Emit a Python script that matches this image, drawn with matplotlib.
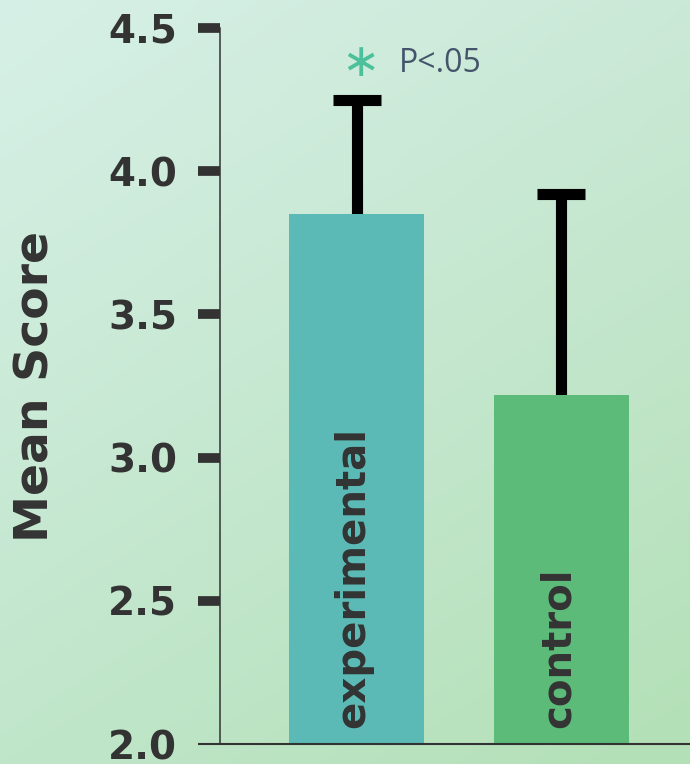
import numpy as np
import matplotlib.pyplot as plt
from matplotlib.colors import to_rgb

# Data
groups = ['experimental', 'control']
means = [3.85, 3.22]
upper_err = [0.40, 0.70]
bar_colors = ['#5bbab6', '#5cbb79']
yticks = [2.0, 2.5, 3.0, 3.5, 4.0, 4.5]
ytick_labels = ['2.0', '2.5', '3.0', '3.5', '4.0', '4.5']

dark = '#333333'

fig = plt.figure(figsize=(6.9, 7.64), dpi=100)

# Soft diagonal gradient behind everything
bg = fig.add_axes([0, 0, 1, 1], zorder=-1)
corners = {
    'tl': np.array(to_rgb('#d7f0e7')),
    'tr': np.array(to_rgb('#cbe9d7')),
    'bl': np.array(to_rgb('#c0e6ca')),
    'br': np.array(to_rgb('#b3e0b6')),
}
h, w = 200, 200
u = np.linspace(0, 1, w)[None, :, None]
v = np.linspace(0, 1, h)[:, None, None]
grad = ((1 - u) * (1 - v) * corners['tl'] + u * (1 - v) * corners['tr']
        + (1 - u) * v * corners['bl'] + u * v * corners['br'])
bg.imshow(grad, aspect='auto', extent=[0, 1, 0, 1], interpolation='bilinear')
bg.axis('off')

ax = fig.add_axes([220 / 690, 20 / 764, 470 / 690, 716 / 764])
ax.set_facecolor('none')

x = np.arange(len(groups))
eb = ax.errorbar(x, means, yerr=[[0, 0], upper_err], fmt='none', ecolor='black',
                 elinewidth=8, capsize=17.5, capthick=8, zorder=1)
# only the upper caps are wanted
eb[1][0].set_visible(False)
ax.bar(x, means, width=0.66, color=bar_colors, zorder=2)

# Group names written up inside the bars
for xi, name in zip(x, groups):
    ax.text(xi - 0.015, 2.055, name, rotation=90, ha='center', va='bottom',
            fontsize=29, fontweight='bold', color=dark, zorder=3)

# Significance note above the experimental bar
ax.text(0.017, 4.375, '\u2217', ha='center', va='center', fontsize=33,
        color='#4cc09a', family='DejaVu Sans')
ax.text(0.205, 4.377, 'P<.05', ha='left', va='center', fontsize=23,
        color='#44546a', family='Open Sans')

ax.set_xlim(-0.666, 1.627)
ax.set_ylim(2.0, 4.5)
ax.set_xticks([])
ax.set_yticks(yticks)
ax.set_yticklabels(ytick_labels, fontsize=28, fontweight='bold', color=dark)
ax.tick_params(axis='y', length=16, width=7, color=dark, pad=15)

ax.set_ylabel('Mean Score', fontsize=34, fontweight='bold', color=dark)
ax.yaxis.label.set_va('center')
ax.yaxis.set_label_coords(-0.3915, 0.5)

for side in ['top', 'right']:
    ax.spines[side].set_visible(False)
ax.spines['left'].set_linewidth(1.1)
ax.spines['left'].set_color(dark)
ax.spines['bottom'].set_linewidth(1.5)
ax.spines['bottom'].set_color(dark)

# the bottom tick sits on the baseline, keep it thin
fig.canvas.draw()
ax.yaxis.get_major_ticks()[0].tick1line.set_markeredgewidth(1.5)

plt.savefig('out.png', dpi=100)
plt.close()
